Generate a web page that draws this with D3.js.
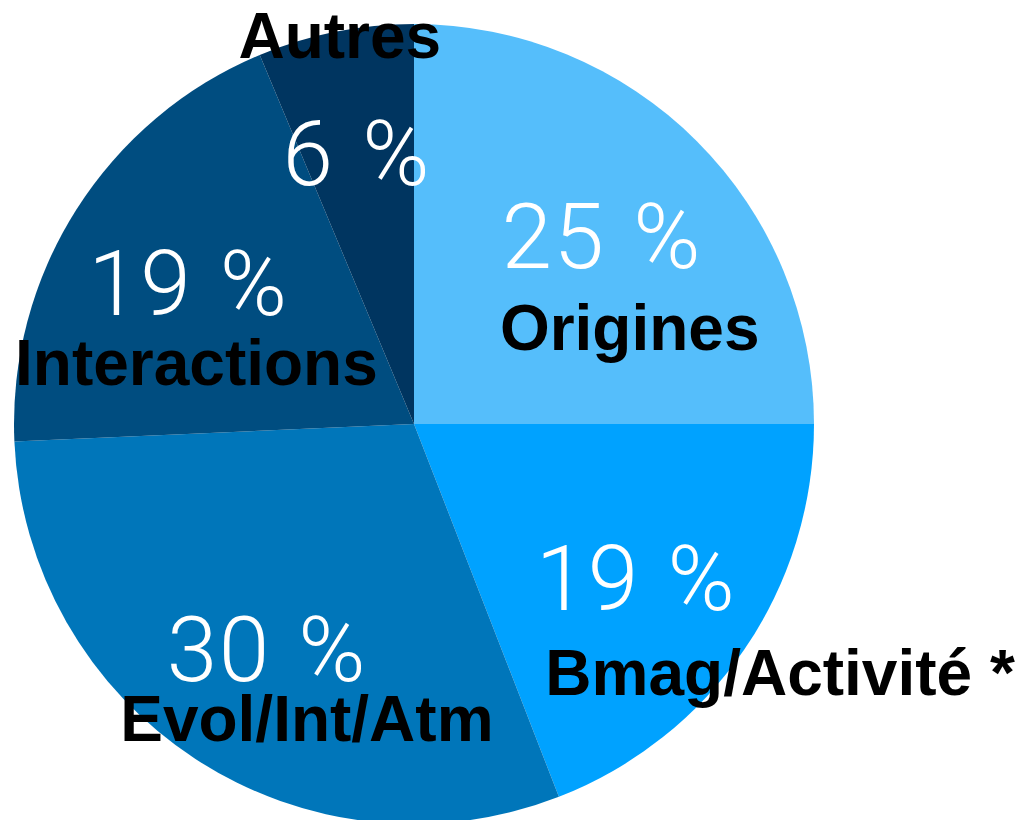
<!DOCTYPE html>
<html lang="fr">
  <head>
    <meta charset="utf-8">
    <script src="https://d3js.org/d3.v7.min.js"></script>
    <title>Répartition</title>
    <style>
      body { margin:0; background:#fff; }
      text.pct { fill:#fff; font-family:"Helvetica Neue", Roboto, sans-serif; font-weight:300; font-size:91px; letter-spacing:1.5px; word-spacing:4px; }
      text.name { fill:#000; font-family:"Liberation Sans", Arial, sans-serif; font-weight:bold; font-size:64px; }
    </style>
  </head>
  <body>
    <script>

      // data
      var categories = ["Origines", "Bmag/Activité *", "Evol/Int/Atm", "Interactions", "Autres"];
      var shares = [25, 19.1, 30.2, 19.4, 6.3];
      var pctLabels = ["25 %", "19 %", "30 %", "19 %", "6 %"];
      var colours = ["#55befb", "#00a2ff", "#0076ba", "#004d80", "#003560"];

      // layout
      var width = 1025, height = 820;
      var cx = 414, cy = 424, radius = 400;
      // label nudges from the centroid: [pct dx, pct dy, name dx, name dy]
      var nudges = [
        [18, 14, 46, 96],
        [24, 50, 168, 135],
        [-16, 56, 24, 116],
        [-23, 20, -15, 90],
        [-10, -4, -27, -131]
      ];

      var svg = d3.select("body").append("svg")
        .attr("width", width).attr("height", height);

      var g = svg.append("g").attr("transform", "translate(" + cx + "," + cy + ")");

      var pie = d3.pie().sort(null).value(function(d){ return d; });
      var arcs = pie(shares);

      var arc = d3.arc().innerRadius(0).outerRadius(radius);
      var labelArc = d3.arc().innerRadius(radius * 0.6).outerRadius(radius * 0.6);

      g.selectAll("path").data(arcs).enter().append("path")
        .attr("d", arc)
        .attr("fill", function(d, i){ return colours[i]; });

      // labels
      arcs.forEach(function(d, i){
        var c = labelArc.centroid(d);
        var n = nudges[i];
        g.append("text").attr("class", "pct")
          .attr("text-anchor", "middle")
          .attr("x", c[0] + n[0]).attr("y", c[1] + n[1])
          .text(pctLabels[i]);
        g.append("text").attr("class", "name")
          .attr("text-anchor", "middle")
          .attr("x", c[0] + n[2]).attr("y", c[1] + n[3])
          .text(categories[i]);
      });

    </script>
  </body>
</html>
